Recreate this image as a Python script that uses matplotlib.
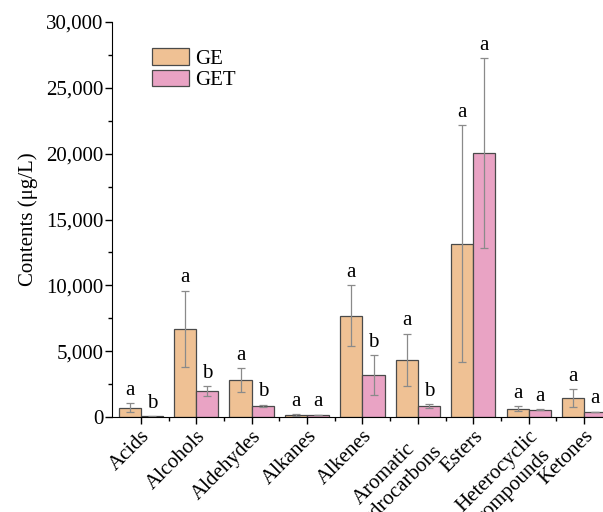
import numpy as np
import matplotlib.pyplot as plt
from matplotlib.ticker import FuncFormatter, MultipleLocator

plt.rcParams['font.family'] = ['Liberation Serif', 'DejaVu Serif']

# data
categorias = ['Acids', 'Alcohols', 'Aldehydes', 'Alkanes', 'Alkenes',
              'Aromatic\nhydrocarbons', 'Esters', 'Heterocyclic\ncompounds', 'Ketones']
ge = [700, 6700, 2800, 150, 7700, 4330, 13150, 620, 1440]
ge_err = [350, 2900, 900, 40, 2300, 2000, 9000, 200, 700]
get = [50, 1970, 830, 150, 3190, 830, 20050, 560, 380]
get_err = [20, 350, 100, 30, 1500, 150, 7200, 60, 30]
letras_ge = ['a', 'a', 'a', 'a', 'a', 'a', 'a', 'a', 'a']
letras_get = ['b', 'b', 'b', 'a', 'b', 'b', 'a', 'a', 'a']

fig = plt.figure(figsize=(6.03, 5.12), dpi=100)
ax = fig.add_axes([112/603, 95/512, 491/603, 395/512])

x = np.arange(len(categorias))
w = 0.4
err_kw = dict(ecolor='#8a8a8a', elinewidth=0.9, capsize=3, capthick=0.9)
ax.bar(x - w/2, ge, w, yerr=ge_err, color='#EFC194', edgecolor='#4a4a4a',
       linewidth=0.9, label='GE', error_kw=err_kw)
ax.bar(x + w/2, get, w, yerr=get_err, color='#E9A3C4', edgecolor='#4a4a4a',
       linewidth=0.9, label='GET', error_kw=err_kw)

# letras de significancia
for i in range(len(categorias)):
    ax.text(x[i] - w/2, ge[i] + ge_err[i] + 250, letras_ge[i], ha='center', va='bottom', fontsize=15)
    ax.text(x[i] + w/2, get[i] + get_err[i] + 250, letras_get[i], ha='center', va='bottom', fontsize=15)

ax.set_xlim(-0.52, 8.34)
ax.set_ylim(0, 30000)
ax.yaxis.set_major_locator(MultipleLocator(5000))
ax.yaxis.set_minor_locator(MultipleLocator(2500))
ax.yaxis.set_major_formatter(FuncFormatter(lambda v, p: f'{int(v):,}'))
ax.set_xticks(x)
ax.set_xticks(x[:-1] + 0.5, minor=True)
ax.set_xticklabels(categorias, rotation=45, ha='right', rotation_mode='anchor',
                   fontsize=15, multialignment='center')
ax.tick_params(axis='both', which='major', direction='out', length=5, width=1, labelsize=15)
ax.tick_params(axis='x', which='major', pad=2)
ax.tick_params(axis='y', which='major', pad=1)
ax.tick_params(axis='both', which='minor', direction='out', length=3, width=1)
ax.set_ylabel('Contents (μg/L)', fontsize=15, labelpad=6)

ax.spines['top'].set_visible(False)
ax.spines['right'].set_visible(False)

ax.legend(loc='upper left', bbox_to_anchor=(0.065, 0.955), frameon=False, fontsize=15,
          handlelength=1.75, handleheight=0.85, labelspacing=0.05, handletextpad=0.3,
          borderaxespad=0)

fig.savefig('out.png', dpi=100)
